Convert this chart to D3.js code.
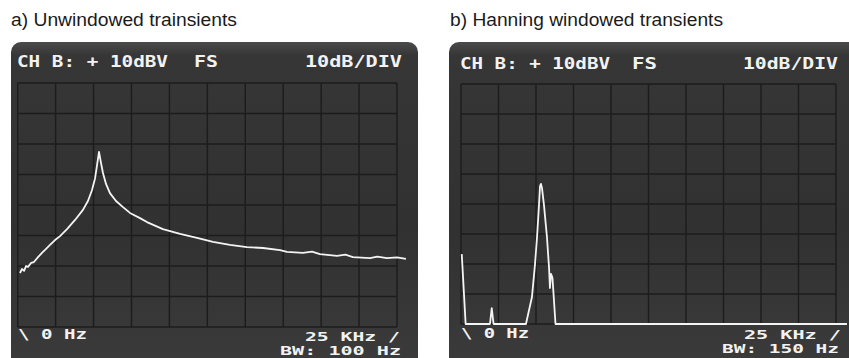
<!DOCTYPE html>
<html><head><meta charset="utf-8">
<script src="https://cdn.jsdelivr.net/npm/d3@7"></script>
<style>html,body{margin:0;padding:0;background:#fff;}svg{display:block;}</style>
</head><body>
<svg id="chart" width="849" height="358"></svg>
<script>
// ---- data ----
const titles = ["a) Unwindowed trainsients", "b) Hanning windowed transients"];
const headerLeft = "CH B: + 10dBV";
const headerMid = "FS";
const headerRight = "10dB/DIV";
const startLabel = "\\ 0 Hz";
const stopLabel = "25 KHz /";
const bwLabels = ["BW: 100 Hz", "BW: 150 Hz"];
const freqTicks = [0, 2.5, 5, 7.5, 10, 12.5, 15, 17.5, 20, 22.5, 25];   // kHz
const levelTicks = [10, 0, -10, -20, -30, -40, -50, -60, -70];          // dBV

// a) unwindowed spectrum (kHz, dBV)
const aFreq  = [0.15,0.28,0.42,0.55,0.68,0.88,1.07,1.34,1.60,1.87,2.13,2.46,2.79,3.25,3.78,4.30,4.63,4.90,5.10,5.23,5.36,5.49,5.62,5.82,6.08,6.48,6.94,7.40,8.06,8.52,9.57,10.70,11.82,12.87,13.99,15.11,16.17,17.29,17.75,18.80,19.40,19.92,21.05,21.60,22.10,23.22,23.70,24.34,25.00,25.59];
const aLevel = [-52.3,-51.0,-51.6,-50.0,-50.3,-49.0,-48.7,-47.1,-45.7,-44.4,-43.1,-41.5,-40.2,-37.9,-34.9,-31.6,-28.7,-25.1,-21.2,-16.9,-12.6,-16.2,-19.5,-23.1,-26.1,-28.7,-30.7,-32.6,-34.3,-35.6,-37.9,-39.5,-40.8,-42.1,-43.1,-43.8,-44.1,-44.8,-45.4,-45.7,-45.3,-46.1,-46.7,-46.3,-47.1,-47.4,-46.9,-47.4,-47.2,-47.7];

// b) Hanning windowed spectrum (kHz, dBV)
const bFreq  = [0.05,0.31,1.93,2.05,2.17,4.33,4.73,4.93,5.07,5.20,5.27,5.33,5.40,5.53,5.73,5.87,5.93,6.00,6.10,6.30,25.73];
const bLevel = [-46.7,-70,-70,-64.7,-70,-70,-61,-50.3,-41,-30.3,-24,-23.3,-24.7,-30.3,-41,-51.3,-58,-53.3,-54.7,-70,-70];

// ---- layout ----
const panels = [
  {title:titles[0], tx:11, ty:26, tw:226, sx:11, sy:42, sw:407, gl:17.7, gr:397, gt:83, gb:327,
   freq:aFreq, level:aLevel, bw:bwLabels[0],
   h:{y:67, l:[17,151], m:[194,24], r:[305,97]},
   f:{s:[18,69,339], e:[305,95,341], b:[280,121,355]}},
  {title:titles[1], tx:450, ty:26, tw:273, sx:449, sy:42, sw:420, gl:461, gr:836, gt:84, gb:324,
   freq:bFreq, level:bLevel, bw:bwLabels[1],
   h:{y:69, l:[460,150], m:[632,25], r:[743,95]},
   f:{s:[461,68,338], e:[744,97,339], b:[722,117,353]}}
];

const svg = d3.select("#chart");
const defs = svg.append("defs");
const grad = defs.append("linearGradient").attr("id","scr").attr("x1",0).attr("y1",0).attr("x2",0).attr("y2",1);
grad.append("stop").attr("offset","0%").attr("stop-color","#4a4a4a");
grad.append("stop").attr("offset","4%").attr("stop-color","#363636");
grad.append("stop").attr("offset","55%").attr("stop-color","#313131");
grad.append("stop").attr("offset","100%").attr("stop-color","#3c3c3c");

const monoFont = "'DejaVu Sans Mono', 'Liberation Mono', monospace";

panels.forEach(p => {
  const g = svg.append("g");
  g.append("text").attr("x",p.tx).attr("y",p.ty)
    .attr("font-family","'Liberation Sans', Arial, sans-serif").attr("font-size",17.5)
    .attr("fill","#1a1a1a").attr("textLength",p.tw).attr("lengthAdjust","spacingAndGlyphs")
    .text(p.title);

  g.append("rect").attr("x",p.sx).attr("y",p.sy).attr("width",p.sw).attr("height",340)
    .attr("rx",10).attr("fill","url(#scr)");

  const x = d3.scaleLinear().domain([0,25]).range([p.gl,p.gr]);
  const y = d3.scaleLinear().domain([-70,10]).range([p.gb,p.gt]);

  const grid = g.append("g").attr("stroke","#1c1c1c").attr("stroke-width",1.4);
  grid.selectAll("line.v").data(freqTicks).join("line")
    .attr("x1",d=>x(d)).attr("x2",d=>x(d)).attr("y1",y(10)).attr("y2",y(-70));
  grid.selectAll("line.h").data(levelTicks).join("line")
    .attr("x1",x(0)).attr("x2",x(25)).attr("y1",d=>y(d)).attr("y2",d=>y(d));

  const pts = p.freq.map((f,i)=>[f,p.level[i]]);
  g.append("path").datum(pts)
    .attr("d", d3.line().x(d=>x(d[0])).y(d=>y(d[1])))
    .attr("fill","none").attr("stroke","#f4f4f4").attr("stroke-width",1.8)
    .attr("stroke-linejoin","round");

  const txt = (s, pos, yb, fs) => g.append("text").attr("x",pos[0]).attr("y",yb)
    .attr("font-family",monoFont).attr("font-weight","bold").attr("font-size",fs)
    .attr("fill","#f2f2f2").attr("textLength",pos[1]).attr("lengthAdjust","spacingAndGlyphs")
    .text(s);
  txt(headerLeft, p.h.l, p.h.y, 15.5);
  txt(headerMid, p.h.m, p.h.y, 15.5);
  txt(headerRight, p.h.r, p.h.y, 15.5);
  txt(startLabel, [p.f.s[0],p.f.s[1]], p.f.s[2], 14);
  txt(stopLabel, [p.f.e[0],p.f.e[1]], p.f.e[2], 12.5);
  txt(p.bw, [p.f.b[0],p.f.b[1]], p.f.b[2], 12.5);
});
</script>
</body></html>
